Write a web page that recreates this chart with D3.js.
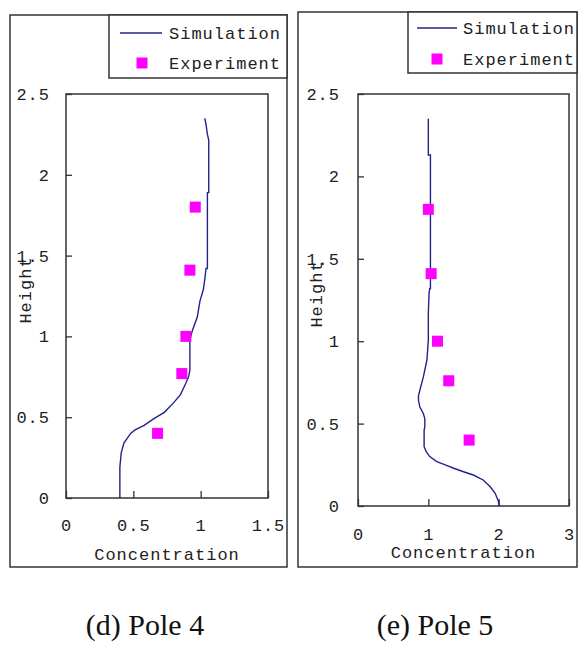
<!DOCTYPE html>
<html>
<head>
<meta charset="utf-8">
<script src="https://cdn.jsdelivr.net/npm/d3@7"></script>
<style>
  html, body { margin: 0; padding: 0; background: #fff; }
  svg { display: block; }
  .mono { font-family: "Liberation Mono", "DejaVu Sans Mono", monospace; font-size: 17px; letter-spacing: 1px; fill: #222; }
  .cap { font-family: "Liberation Serif", "Times New Roman", serif; font-size: 30px; fill: #111; }
</style>
</head>
<body>
<svg id="chart" width="579" height="645"></svg>
<script>
// Pole 4: simulated concentration profile [concentration, height]
const pole4Simulation = [
  [0.40, 0.00], [0.40, 0.19], [0.41, 0.28], [0.43, 0.34], [0.48, 0.40], [0.51, 0.42],
  [0.58, 0.45], [0.65, 0.49], [0.73, 0.53], [0.80, 0.59], [0.85, 0.64], [0.89, 0.71],
  [0.91, 0.75], [0.92, 0.79], [0.92, 0.98], [0.94, 1.04], [0.975, 1.12], [0.995, 1.22],
  [1.02, 1.29], [1.03, 1.35], [1.04, 1.42], [1.05, 1.42], [1.05, 1.89], [1.06, 1.89],
  [1.06, 2.215], [1.05, 2.25], [1.04, 2.31], [1.03, 2.35]
];
// Pole 4: measured points [concentration, height]
const pole4Experiment = [[0.96, 1.80], [0.92, 1.41], [0.89, 1.00], [0.86, 0.77], [0.68, 0.40]];

// Pole 5: simulated concentration profile [concentration, height]
const pole5Simulation = [
  [2.01, 0.00], [1.995, 0.03], [1.95, 0.077], [1.88, 0.117], [1.78, 0.158], [1.64, 0.188],
  [1.50, 0.208], [1.36, 0.229], [1.24, 0.249], [1.12, 0.269], [1.02, 0.30], [0.97, 0.33],
  [0.94, 0.36], [0.94, 0.46], [0.95, 0.48], [0.95, 0.53], [0.93, 0.56], [0.88, 0.60],
  [0.86, 0.64], [0.86, 0.67], [0.89, 0.72], [0.93, 0.785], [0.96, 0.845], [0.98, 0.886],
  [0.99, 0.947], [1.00, 1.007], [1.00, 1.17], [1.01, 1.29], [1.02, 1.32],
  [1.03, 1.32], [1.03, 2.13], [1.00, 2.13], [1.00, 2.35]
];
// Pole 5: measured points [concentration, height]
const pole5Experiment = [[1.00, 1.80], [1.04, 1.41], [1.13, 1.00], [1.29, 0.76], [1.58, 0.40]];

// Axis ticks
const heightTicks = [0, 0.5, 1, 1.5, 2, 2.5];
const pole4ConcTicks = [0, 0.5, 1, 1.5];
const pole5ConcTicks = [0, 1, 2, 3];

const seriesNames = ["Simulation", "Experiment"];
const captions = ["(d) Pole 4", "(e) Pole 5"];

const lineColor = "#23238c";
const markColor = "#ff00ff";
const frameColor = "#333";

const svg = d3.select("#chart");

const panels = [
  {
    sim: pole4Simulation, exp: pole4Experiment, xTicks: pole4ConcTicks, xMax: 1.5, caption: captions[0],
    frame: { x: 10, y: 15, w: 277, h: 552 },
    legend: { x: 109, y: 15, w: 178, h: 63, lineX: 120, lineW: 42, textX: 169, row1: 33, row2: 63, sqX: 142 },
    plot: { x: 66, y: 94, w: 202, h: 404 },
    yPad: 16, xLabelY: 525, titleY: 554, heightX: 25, heightY: 290, capX: 145
  },
  {
    sim: pole5Simulation, exp: pole5Experiment, xTicks: pole5ConcTicks, xMax: 3, caption: captions[1],
    frame: { x: 298, y: 12, w: 279, h: 555 },
    legend: { x: 408, y: 12, w: 169, h: 61, lineX: 417, lineW: 40, textX: 463, row1: 28, row2: 59, sqX: 437 },
    plot: { x: 358, y: 94, w: 211, h: 412 },
    yPad: 18, xLabelY: 534, titleY: 552, heightX: 316, heightY: 294, capX: 435
  }
];

panels.forEach(p => {
  const g = svg.append("g");

  // outer frame
  g.append("rect")
    .attr("x", p.frame.x).attr("y", p.frame.y)
    .attr("width", p.frame.w).attr("height", p.frame.h)
    .attr("fill", "none").attr("stroke", frameColor).attr("stroke-width", 1.5);

  const x = d3.scaleLinear().domain([0, p.xMax]).range([p.plot.x, p.plot.x + p.plot.w]);
  const y = d3.scaleLinear().domain([0, 2.5]).range([p.plot.y + p.plot.h, p.plot.y]);

  // plot border
  g.append("rect")
    .attr("x", p.plot.x).attr("y", p.plot.y)
    .attr("width", p.plot.w).attr("height", p.plot.h)
    .attr("fill", "none").attr("stroke", frameColor).attr("stroke-width", 1.5);

  // y axis, ticks pointing inward
  const yAxis = g.append("g")
    .attr("transform", `translate(${p.plot.x},0)`)
    .call(d3.axisLeft(y).tickValues(heightTicks).tickFormat(d3.format("")).tickSize(-6).tickSizeOuter(0).tickPadding(p.yPad));
  yAxis.select(".domain").remove();
  yAxis.selectAll(".tick line").attr("stroke", frameColor).attr("stroke-width", 1.3);
  yAxis.selectAll(".tick text").attr("class", "mono").attr("font-family", null).attr("font-size", null).attr("fill", null);

  // x axis, ticks pointing inward
  const xAxis = g.append("g")
    .attr("transform", `translate(0,${p.plot.y + p.plot.h})`)
    .call(d3.axisBottom(x).tickValues(p.xTicks).tickFormat(d3.format("")).tickSize(-7).tickSizeOuter(0));
  xAxis.select(".domain").remove();
  xAxis.selectAll(".tick line").attr("stroke", frameColor).attr("stroke-width", 1.3);
  xAxis.selectAll(".tick text")
    .attr("class", "mono").attr("font-family", null).attr("font-size", null).attr("fill", null)
    .attr("y", p.xLabelY - (p.plot.y + p.plot.h)).attr("dy", "0.35em");

  // axis titles
  g.append("text").attr("class", "mono")
    .attr("x", x(p.xMax / 2)).attr("y", p.titleY).attr("dy", "0.35em")
    .attr("text-anchor", "middle").text("Concentration");
  g.append("text").attr("class", "mono")
    .attr("transform", `translate(${p.heightX},${p.heightY}) rotate(-90)`)
    .attr("dy", "0.35em").attr("text-anchor", "middle").text("Height");

  // simulation profile
  g.append("path")
    .datum(p.sim)
    .attr("fill", "none").attr("stroke", lineColor).attr("stroke-width", 1.4)
    .attr("d", d3.line().x(d => x(d[0])).y(d => y(d[1])));

  // experiment points
  g.selectAll("rect.pt").data(p.exp).enter().append("rect")
    .attr("class", "pt")
    .attr("x", d => x(d[0]) - 5.5).attr("y", d => y(d[1]) - 5.5)
    .attr("width", 11).attr("height", 11)
    .attr("fill", markColor);

  // legend
  const L = p.legend;
  g.append("rect")
    .attr("x", L.x).attr("y", L.y).attr("width", L.w).attr("height", L.h)
    .attr("fill", "#fff").attr("stroke", frameColor).attr("stroke-width", 1.5);
  g.append("line")
    .attr("x1", L.lineX).attr("x2", L.lineX + L.lineW)
    .attr("y1", L.row1).attr("y2", L.row1)
    .attr("stroke", lineColor).attr("stroke-width", 1.4);
  g.append("text").attr("class", "mono")
    .attr("x", L.textX).attr("y", L.row1).attr("dy", "0.35em").text(seriesNames[0]);
  g.append("rect")
    .attr("x", L.sqX - 5.5).attr("y", L.row2 - 5.5).attr("width", 11).attr("height", 11)
    .attr("fill", markColor);
  g.append("text").attr("class", "mono")
    .attr("x", L.textX).attr("y", L.row2).attr("dy", "0.35em").text(seriesNames[1]);

  // caption
  g.append("text").attr("class", "cap")
    .attr("x", p.capX).attr("y", 635)
    .attr("text-anchor", "middle").text(p.caption);
});
</script>
</body>
</html>
